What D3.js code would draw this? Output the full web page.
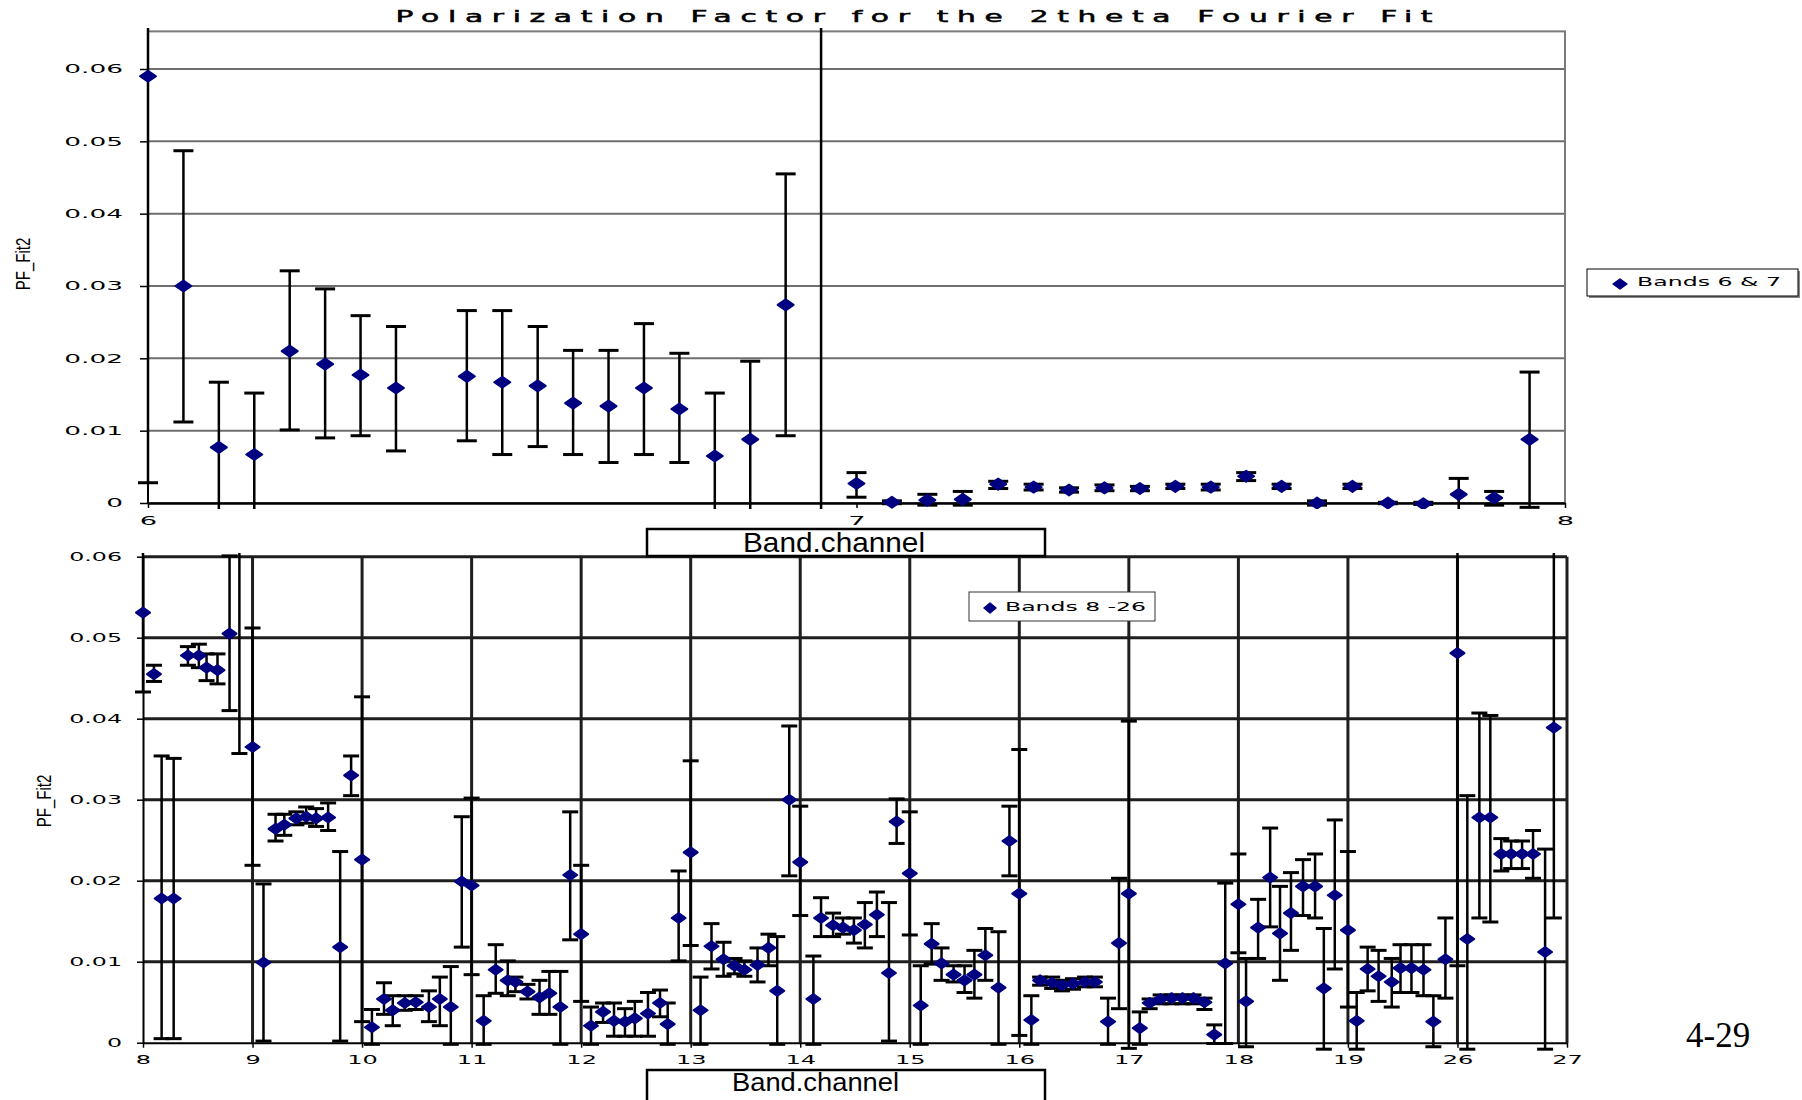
<!DOCTYPE html>
<html>
<head>
    <script src="https://cdnjs.cloudflare.com/ajax/libs/d3/7.8.5/d3.min.js" type="text/javascript"></script>
    <style>
        body { margin: 0; background: #fff; }
    </style>
</head>
<body>
    <div id="viz"></div>
    <script type="text/javascript">

    // ---- Bands 6 & 7 (top panel) ----
    var topX = [6.00, 6.05, 6.10, 6.15, 6.20, 6.25, 6.30, 6.35, 6.45, 6.50, 6.55, 6.60, 6.65, 6.70, 6.75, 6.80, 6.85, 6.90, 6.95,
                7.00, 7.05, 7.10, 7.15, 7.20, 7.25, 7.30, 7.35, 7.40, 7.45, 7.50, 7.55, 7.60, 7.65, 7.70, 7.75, 7.80, 7.85, 7.90, 7.95];
    var topY = [0.0590, 0.0300, 0.0077, 0.0067, 0.0210, 0.0192, 0.0177, 0.0159, 0.0175, 0.0167, 0.0162, 0.0138, 0.0134, 0.0159, 0.0130, 0.0065, 0.0088, 0.0274, 0.0800,
                0.0027, 0.0001, 0.0004, 0.0005, 0.0026, 0.0022, 0.0018, 0.0021, 0.0020, 0.0023, 0.0022, 0.0037, 0.0023, 0.0000, 0.0023, 0.0000, -0.0001, 0.0012, 0.0007, 0.0088];
    var topHi = [0.0700, 0.0487, 0.0167, 0.0152, 0.0321, 0.0296, 0.0259, 0.0244, 0.0266, 0.0266, 0.0244, 0.0211, 0.0211, 0.0248, 0.0207, 0.0152, 0.0196, 0.0455, 0.0900,
                 0.0042, 0.0003, 0.0012, 0.0016, 0.0030, 0.0026, 0.0021, 0.0025, 0.0023, 0.0026, 0.0026, 0.0042, 0.0026, 0.0003, 0.0026, 0.0001, 0.0001, 0.0034, 0.0016, 0.0181];
    var topLo = [0.0028, 0.0112, -0.0012, -0.0012, 0.0101, 0.0090, 0.0093, 0.0072, 0.0086, 0.0067, 0.0078, 0.0067, 0.0056, 0.0067, 0.0056, -0.0012, -0.0012, 0.0093, -0.0012,
                 0.0008, -0.0001, -0.0003, -0.0003, 0.0020, 0.0018, 0.0015, 0.0017, 0.0017, 0.0020, 0.0018, 0.0031, 0.0020, -0.0003, 0.0020, -0.0001, -0.0002, -0.0012, -0.0003, -0.0006];

    // ---- Bands 8 - 26 (bottom panel), x is band.channel ----
    var botX = [8.00, 8.10, 8.17, 8.28, 8.41, 8.51, 8.58, 8.68, 8.79, 8.88,
                9.00, 9.10, 9.21, 9.29, 9.40, 9.49, 9.58, 9.69, 9.80, 9.90,
                10.00, 10.09, 10.20, 10.28, 10.39, 10.49, 10.61, 10.71, 10.81, 10.91,
                11.00, 11.11, 11.22, 11.33, 11.40, 11.51, 11.62, 11.71, 11.81, 11.90,
                12.00, 12.09, 12.20, 12.30, 12.40, 12.49, 12.61, 12.72, 12.79, 12.89,
                13.00, 13.09, 13.19, 13.30, 13.40, 13.49, 13.61, 13.71, 13.79, 13.90,
                14.00, 14.12, 14.19, 14.30, 14.39, 14.49, 14.59, 14.70, 14.81, 14.88,
                15.00, 15.10, 15.20, 15.29, 15.40, 15.50, 15.59, 15.69, 15.81, 15.91,
                16.00, 16.11, 16.19, 16.30, 16.39, 16.49, 16.60, 16.69, 16.81, 16.91,
                17.00, 17.10, 17.19, 17.29, 17.39, 17.49, 17.59, 17.69, 17.78, 17.88,
                18.00, 18.07, 18.18, 18.29, 18.38, 18.48, 18.59, 18.70, 18.78, 18.88,
                19.00, 19.08, 19.18, 19.28, 19.40, 19.48, 19.58, 19.69, 19.78, 19.89,
                26.00, 26.09, 26.20, 26.30, 26.40, 26.49, 26.59, 26.69, 26.80, 26.88];
    var botY = [0.0531, 0.0455, 0.0178, 0.0178, 0.0478, 0.0478, 0.0463, 0.0460, 0.0505, 0.0750,
                0.0365, 0.0099, 0.0264, 0.0269, 0.0277, 0.0279, 0.0277, 0.0278, 0.0118, 0.0330,
                0.0226, 0.0019, 0.0054, 0.0040, 0.0049, 0.0050, 0.0044, 0.0054, 0.0044, 0.0199,
                0.0194, 0.0027, 0.0090, 0.0077, 0.0075, 0.0063, 0.0056, 0.0061, 0.0044, 0.0207,
                0.0134, 0.0021, 0.0038, 0.0027, 0.0026, 0.0030, 0.0036, 0.0049, 0.0023, 0.0154,
                0.0235, 0.0040, 0.0119, 0.0103, 0.0095, 0.0090, 0.0096, 0.0117, 0.0064, 0.0300,
                0.0223, 0.0054, 0.0154, 0.0145, 0.0142, 0.0139, 0.0146, 0.0158, 0.0086, 0.0273,
                0.0209, 0.0046, 0.0122, 0.0098, 0.0084, 0.0077, 0.0084, 0.0108, 0.0068, 0.0249,
                0.0184, 0.0028, 0.0077, 0.0074, 0.0071, 0.0073, 0.0075, 0.0075, 0.0026, 0.0123,
                0.0184, 0.0018, 0.0049, 0.0054, 0.0055, 0.0055, 0.0055, 0.0050, 0.0010, 0.0098,
                0.0171, 0.0051, 0.0142, 0.0204, 0.0135, 0.0160, 0.0193, 0.0193, 0.0067, 0.0182,
                0.0139, 0.0027, 0.0091, 0.0082, 0.0075, 0.0092, 0.0092, 0.0090, 0.0026, 0.0103,
                0.0481, 0.0128, 0.0278, 0.0278, 0.0233, 0.0233, 0.0233, 0.0233, 0.0112, 0.0389];
    var botHi = [0.0700, 0.0466, 0.0354, 0.0351, 0.0489, 0.0492, 0.0480, 0.0480, 0.0601, 0.0900,
                 0.0512, 0.0196, 0.0282, 0.0282, 0.0285, 0.0291, 0.0289, 0.0296, 0.0236, 0.0354,
                 0.0427, 0.0041, 0.0074, 0.0058, 0.0058, 0.0058, 0.0064, 0.0081, 0.0094, 0.0279,
                 0.0302, 0.0058, 0.0121, 0.0101, 0.0081, 0.0072, 0.0077, 0.0088, 0.0088, 0.0285,
                 0.0219, 0.0044, 0.0049, 0.0049, 0.0042, 0.0051, 0.0062, 0.0065, 0.0049, 0.0212,
                 0.0348, 0.0081, 0.0147, 0.0124, 0.0104, 0.0101, 0.0117, 0.0134, 0.0131, 0.0391,
                 0.0292, 0.0107, 0.0179, 0.0160, 0.0154, 0.0154, 0.0173, 0.0186, 0.0173, 0.0301,
                 0.0285, 0.0095, 0.0147, 0.0117, 0.0095, 0.0095, 0.0114, 0.0141, 0.0137, 0.0292,
                 0.0362, 0.0058, 0.0081, 0.0081, 0.0077, 0.0079, 0.0081, 0.0081, 0.0055, 0.0203,
                 0.0397, 0.0038, 0.0054, 0.0059, 0.0059, 0.0059, 0.0059, 0.0055, 0.0022, 0.0197,
                 0.0233, 0.0104, 0.0177, 0.0265, 0.0193, 0.0210, 0.0226, 0.0233, 0.0141, 0.0275,
                 0.0236, 0.0062, 0.0118, 0.0114, 0.0104, 0.0121, 0.0121, 0.0121, 0.0058, 0.0154,
                 0.0700, 0.0305, 0.0407, 0.0404, 0.0252, 0.0249, 0.0249, 0.0262, 0.0239, 0.0700];
    var botLo = [0.0433, 0.0446, 0.0005, 0.0005, 0.0466, 0.0463, 0.0447, 0.0443, 0.0410, 0.0357,
                 0.0219, 0.0002, 0.0249, 0.0256, 0.0269, 0.0271, 0.0267, 0.0262, 0.0002, 0.0305,
                 0.0026, -0.0002, 0.0035, 0.0021, 0.0040, 0.0041, 0.0026, 0.0021, -0.0002, 0.0118,
                 0.0084, -0.0002, 0.0061, 0.0058, 0.0063, 0.0054, 0.0035, 0.0035, -0.0002, 0.0127,
                 0.0051, -0.0002, 0.0025, 0.0008, 0.0008, 0.0008, 0.0008, 0.0032, -0.0002, 0.0101,
                 0.0120, -0.0002, 0.0091, 0.0082, 0.0085, 0.0082, 0.0075, 0.0095, -0.0002, 0.0206,
                 0.0157, -0.0002, 0.0131, 0.0131, 0.0134, 0.0123, 0.0117, 0.0131, 0.0002, 0.0246,
                 0.0133, -0.0002, 0.0097, 0.0077, 0.0075, 0.0062, 0.0055, 0.0077, -0.0002, 0.0206,
                 0.0009, -0.0002, 0.0071, 0.0067, 0.0064, 0.0066, 0.0069, 0.0069, -0.0002, 0.0042,
                 -0.0007, -0.0002, 0.0042, 0.0048, 0.0048, 0.0048, 0.0048, 0.0041, -0.0001, -0.0001,
                 0.0111, -0.0005, 0.0104, 0.0143, 0.0077, 0.0114, 0.0157, 0.0154, -0.0008, 0.0091,
                 0.0044, -0.0008, 0.0064, 0.0051, 0.0044, 0.0062, 0.0062, 0.0058, -0.0005, 0.0055,
                 0.0095, -0.0008, 0.0154, 0.0149, 0.0212, 0.0215, 0.0215, 0.0203, -0.0008, 0.0154];

    // axis ticks / labels
    var yTicks = [0, 0.01, 0.02, 0.03, 0.04, 0.05, 0.06];
    var yTickLabels = ["0", "0.01", "0.02", "0.03", "0.04", "0.05", "0.06"];
    var topBandTicks = [6, 7, 8];
    var botBandTicks = [8, 9, 10, 11, 12, 13, 14, 15, 16, 17, 18, 19, 26, 27];

    var NAVY = "#000080";

    var svg = d3.select("#viz").append("svg")
        .attr("width", 1802)
        .attr("height", 1100)
        .style("display", "block")
        .style("background", "#fff");

    // text in the original is stretched sideways, so scale glyphs in x
    function widen(sel, sx) {
        sel.each(function() {
            var t = d3.select(this);
            var x = +t.attr("x") || 0, y = +t.attr("y") || 0;
            t.attr("x", null).attr("y", null)
             .attr("transform", "translate(" + x + "," + y + ") scale(" + sx + ",1)");
        });
    }

    function errorBars(g, pts, x, y, capHalf, mHalfW, mHalfH) {
        var eb = g.selectAll("g.eb").data(pts).enter().append("g").attr("class", "eb");
        eb.append("line")
            .attr("x1", function(d) { return x(d.x); })
            .attr("x2", function(d) { return x(d.x); })
            .attr("y1", function(d) { return y(d.lo); })
            .attr("y2", function(d) { return y(d.hi); })
            .attr("stroke", "#000").attr("stroke-width", 2.5);
        ["lo", "hi"].forEach(function(k) {
            eb.append("line")
                .attr("x1", function(d) { return x(d.x) - capHalf; })
                .attr("x2", function(d) { return x(d.x) + capHalf; })
                .attr("y1", function(d) { return y(d[k]); })
                .attr("y2", function(d) { return y(d[k]); })
                .attr("stroke", "#000").attr("stroke-width", 3);
        });
        g.selectAll("path.pt").data(pts).enter().append("path")
            .attr("class", "pt")
            .attr("d", "M0," + (-mHalfH) + "L" + mHalfW + ",0L0," + mHalfH + "L" + (-mHalfW) + ",0Z")
            .attr("transform", function(d) { return "translate(" + x(d.x) + "," + y(d.y) + ")"; })
            .attr("fill", NAVY).attr("stroke", NAVY).attr("stroke-width", 2)
            .attr("stroke-linejoin", "round");
    }

    // ================= TOP PANEL =================
    var xTop = d3.scaleLinear().domain([6, 8]).range([148, 1565]);
    var yTop = d3.scaleLinear().domain([0, 0.06]).range([503, 69]);
    var topCeil = 0.0652;

    var gt = svg.append("g");

    gt.selectAll("line.grid").data(yTicks.slice(1)).enter().append("line")
        .attr("x1", xTop(6)).attr("x2", xTop(8))
        .attr("y1", function(d) { return yTop(d); })
        .attr("y2", function(d) { return yTop(d); })
        .attr("stroke", "#6e6e6e").attr("stroke-width", 2);

    gt.append("rect")
        .attr("x", xTop(6)).attr("y", yTop(topCeil))
        .attr("width", xTop(8) - xTop(6)).attr("height", yTop(0) - yTop(topCeil))
        .attr("fill", "none").attr("stroke", "#7a7a7a").attr("stroke-width", 2);

    var yAxT = gt.append("g")
        .attr("transform", "translate(" + xTop(6) + ",0)")
        .call(d3.axisLeft(yTop).tickValues(yTicks)
            .tickFormat(function(d, i) { return yTickLabels[i]; })
            .tickSize(8).tickSizeOuter(0).tickPadding(17));
    yAxT.select(".domain").attr("stroke", "#000").attr("stroke-width", 2)
        .attr("d", "M0," + yTop(topCeil) + "V" + yTop(0));
    yAxT.selectAll(".tick line").attr("stroke", "#000").attr("stroke-width", 1.5);
    yAxT.selectAll(".tick text")
        .attr("font-family", "DejaVu Sans").attr("font-size", 12).attr("fill", "#000");
    widen(yAxT.selectAll(".tick text"), 2.2);

    var xAxT = gt.append("g")
        .attr("transform", "translate(0," + yTop(0) + ")")
        .call(d3.axisBottom(xTop).tickValues(topBandTicks)
            .tickFormat(d3.format("d")).tickSize(5).tickSizeOuter(0).tickPadding(8));
    xAxT.select(".domain").attr("stroke", "#000").attr("stroke-width", 2.5);
    xAxT.selectAll(".tick line").attr("stroke", "#000").attr("stroke-width", 1.5);
    xAxT.selectAll(".tick text")
        .attr("font-family", "DejaVu Sans").attr("font-size", 13).attr("fill", "#000");
    widen(xAxT.selectAll(".tick text"), 2.1);

    svg.append("clipPath").attr("id", "clipTop").append("rect")
        .attr("x", 120).attr("y", 28).attr("width", 1460).attr("height", 509 - 28);

    var topPts = topX.map(function(v, i) { return { x: v, y: topY[i], hi: topHi[i], lo: topLo[i] }; });
    errorBars(gt.append("g").attr("clip-path", "url(#clipTop)"), topPts, xTop, yTop, 10, 8, 5.5);

    // title (letter-spaced and widened like the original)
    var titleSx = 1.8;
    svg.append("text")
        .attr("transform", "translate(914,21.5) scale(" + titleSx + ",1)")
        .attr("text-anchor", "middle")
        .attr("font-family", "DejaVu Sans").attr("font-size", 16.5)
        .attr("stroke", "#000").attr("stroke-width", 0.5)
        .attr("textLength", 1037 / titleSx).attr("lengthAdjust", "spacing")
        .text("Polarization Factor for the 2theta Fourier Fit");

    // y title
    svg.append("text")
        .attr("transform", "translate(30,264) scale(1.3,1) rotate(-90)")
        .attr("text-anchor", "middle")
        .attr("font-family", "Liberation Sans").attr("font-size", 15)
        .text("PF_Fit2");

    // legend top
    var lgT = svg.append("g");
    lgT.append("rect").attr("x", 1589).attr("y", 271).attr("width", 211).attr("height", 27).attr("fill", "#888");
    lgT.append("rect").attr("x", 1587).attr("y", 269).attr("width", 211).attr("height", 27)
        .attr("fill", "#fff").attr("stroke", "#000").attr("stroke-width", 1);
    lgT.append("path").attr("d", "M0,-5L7,0L0,5L-7,0Z").attr("transform", "translate(1620,284)")
        .attr("fill", NAVY).attr("stroke", NAVY).attr("stroke-width", 1.5).attr("stroke-linejoin", "round");
    lgT.append("text").attr("x", 1637).attr("y", 286)
        .attr("font-family", "DejaVu Sans").attr("font-size", 12.5)
        .attr("textLength", 144).attr("lengthAdjust", "spacingAndGlyphs")
        .text("Bands 6 & 7");

    // ================= BOTTOM PANEL =================
    function bandPos(v) {
        var b = Math.floor(v + 1e-9);
        return botBandTicks.indexOf(b) + (v - b);
    }
    var xBot = d3.scaleLinear().domain([0, botBandTicks.length - 1]).range([143, 1567]);
    var yBot = d3.scaleLinear().domain([0, 0.06]).range([1042.7, 556.7]);

    var gb = svg.append("g");

    gb.selectAll("line.hgrid").data(yTicks.slice(1)).enter().append("line")
        .attr("x1", xBot(0)).attr("x2", xBot(13))
        .attr("y1", function(d) { return yBot(d); })
        .attr("y2", function(d) { return yBot(d); })
        .attr("stroke", "#1e1e1e").attr("stroke-width", 3);
    gb.selectAll("line.vgrid").data(d3.range(1, botBandTicks.length)).enter().append("line")
        .attr("x1", function(d) { return xBot(d); })
        .attr("x2", function(d) { return xBot(d); })
        .attr("y1", yBot(0.06)).attr("y2", yBot(0))
        .attr("stroke", "#1e1e1e").attr("stroke-width", 3);

    var yAxB = gb.append("g")
        .attr("transform", "translate(" + xBot(0) + ",0)")
        .call(d3.axisLeft(yBot).tickValues(yTicks)
            .tickFormat(function(d, i) { return yTickLabels[i]; })
            .tickSize(6).tickSizeOuter(0).tickPadding(15));
    yAxB.select(".domain").attr("stroke", "#000").attr("stroke-width", 2);
    yAxB.selectAll(".tick line").attr("stroke", "#000").attr("stroke-width", 1.5);
    yAxB.selectAll(".tick text")
        .attr("font-family", "DejaVu Sans").attr("font-size", 12.5).attr("fill", "#000");
    widen(yAxB.selectAll(".tick text"), 1.9);

    var xAxB = gb.append("g")
        .attr("transform", "translate(0," + yBot(0) + ")")
        .call(d3.axisBottom(xBot).tickValues(d3.range(botBandTicks.length))
            .tickFormat(function(d) { return botBandTicks[d]; })
            .tickSize(5).tickSizeOuter(0).tickPadding(7));
    xAxB.select(".domain").attr("stroke", "#000").attr("stroke-width", 2);
    xAxB.selectAll(".tick line").attr("stroke", "#000").attr("stroke-width", 1.5);
    xAxB.selectAll(".tick text")
        .attr("font-family", "DejaVu Sans").attr("font-size", 13).attr("fill", "#000");
    widen(xAxB.selectAll(".tick text"), 1.85);

    svg.append("clipPath").attr("id", "clipBot").append("rect")
        .attr("x", 120).attr("y", 553).attr("width", 1470).attr("height", 1052 - 553);

    var botPts = botX.map(function(v, i) { return { x: bandPos(v), y: botY[i], hi: botHi[i], lo: botLo[i] }; });
    errorBars(gb.append("g").attr("clip-path", "url(#clipBot)"), botPts, xBot, yBot, 8, 7, 5);

    svg.append("text")
        .attr("transform", "translate(51,801) scale(1.3,1) rotate(-90)")
        .attr("text-anchor", "middle")
        .attr("font-family", "Liberation Sans").attr("font-size", 15)
        .text("PF_Fit2");

    // legend bottom
    var lgB = svg.append("g");
    lgB.append("rect").attr("x", 969).attr("y", 592).attr("width", 186).attr("height", 29)
        .attr("fill", "#fff").attr("stroke", "#333").attr("stroke-width", 1);
    lgB.append("path").attr("d", "M0,-5L6,0L0,5L-6,0Z").attr("transform", "translate(990,608)")
        .attr("fill", NAVY).attr("stroke", NAVY).attr("stroke-width", 1.5).attr("stroke-linejoin", "round");
    lgB.append("text").attr("x", 1005).attr("y", 611)
        .attr("font-family", "DejaVu Sans").attr("font-size", 12.5)
        .attr("textLength", 141).attr("lengthAdjust", "spacingAndGlyphs")
        .text("Bands 8 -26");

    // Band.channel boxes
    [{ y: 529, h: 27, base: 551.5, fs: 28, tl: 182, tx: 743 },
     { y: 1070, h: 34, base: 1090.7, fs: 25, tl: 167, tx: 732 }].forEach(function(b) {
        svg.append("rect").attr("x", 647).attr("y", b.y).attr("width", 398).attr("height", b.h)
            .attr("fill", "#fff").attr("stroke", "#000").attr("stroke-width", 2.5);
        svg.append("text").attr("x", b.tx).attr("y", b.base)
            .attr("font-family", "Liberation Sans").attr("font-size", b.fs)
            .attr("textLength", b.tl).attr("lengthAdjust", "spacingAndGlyphs")
            .text("Band.channel");
    });

    // page number
    svg.append("text").attr("x", 1686).attr("y", 1046.5)
        .attr("font-family", "Liberation Serif").attr("font-size", 35)
        .text("4-29");

    </script>
</body>
</html>
